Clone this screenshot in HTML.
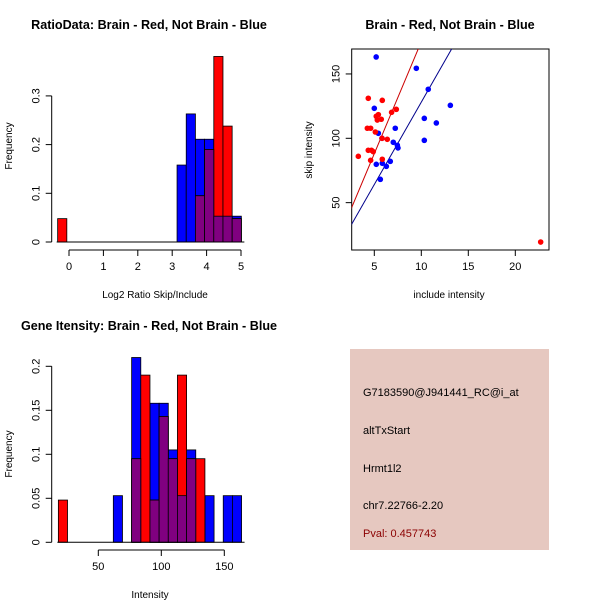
<!DOCTYPE html>
<html><head><meta charset="utf-8"><style>
body{margin:0;background:#fff}
svg{display:block;font-family:"Liberation Sans",sans-serif}
</style></head><body>
<svg id="c" width="600" height="600" viewBox="0 0 600 600">
<rect x="350" y="349" width="199" height="201" fill="#e6c8c0"/>
<text x="363" y="396" font-size="11">G7183590@J941441_RC@i_at</text>
<text x="363" y="434" font-size="11">altTxStart</text>
<text x="363" y="472" font-size="11">Hrmt1l2</text>
<text x="363" y="509" font-size="11">chr7.22766-2.20</text>
<text x="363" y="537" font-size="11" fill="#8b0000">Pval: 0.457743</text>
</svg>
<script>
// Ratio histogram (breaks -0.33 + 0.267k)
const ratioBreak0=-0.33, ratioStep=0.267;
const ratioRed=[0.048,0,0,0,0,0,0,0,0,0,0,0,0,0,0,0.095,0.19,0.381,0.238,0.048];
const ratioBlue=[0,0,0,0,0,0,0,0,0,0,0,0,0,0.158,0.263,0.211,0.211,0.053,0.053,0.053];
const ratioXTicks=[0,1,2,3,4,5];
const ratioYTicks=[0,0.1,0.2,0.3];
// Intensity histogram (breaks 18.3 + 7.27k)
const intBreak0=18.3, intStep=7.27;
const intRed=[0.048,0,0,0,0,0,0,0,0.095,0.19,0.048,0.143,0.095,0.19,0.095,0.095,0,0,0,0];
const intBlue=[0,0,0,0,0,0,0.053,0,0.21,0,0.158,0.158,0.105,0.053,0.105,0,0.053,0,0.053,0.053];
const intXTicks=[50,100,150];
const intYTicks=[0,0.05,0.1,0.15,0.2];
// Scatter
const blueX=[5.2,9.47,10.74,13.09,5.0,10.32,11.6,7.23,5.43,5.82,10.32,7.02,7.52,5.21,5.85,6.28,6.70,5.64,7.45];
const blueY=[163.2,154.4,138.1,125.6,123.3,115.5,111.9,107.8,103.9,100,98.4,96.9,92.5,79.8,80.6,78.2,82.1,68.1,94.6];
const redX=[4.36,5.85,6.84,7.34,5.43,5.21,5.32,5.74,4.26,4.61,5.11,6.38,5.82,4.36,4.89,4.61,5.85,3.30,22.7,4.7];
const redY=[131.1,129.5,120.2,122.5,118.4,117.1,114.2,114.8,107.8,107.8,104.9,99.2,100,90.7,89.6,82.9,83.7,86,19.4,90.7];
const redFit=[1.1,17.4], blueFit=[0.1,12.8];
const scXTicks=[5,10,15,20], scYTicks=[50,100,150];

const NS="http://www.w3.org/2000/svg", svg=document.getElementById('c');
function mk(t,a,p){const e=document.createElementNS(NS,t);for(const k in a)e.setAttribute(k,a[k]);(p||svg).appendChild(e);return e;}
function txt(x,y,s,size,extra){const e=mk('text',Object.assign({x:x,y:y,'font-size':size,'text-anchor':'middle'},extra||{}));e.textContent=s;return e;}

function hist(o){
  const X=v=>o.x0+(v-o.v0)*o.sx, Y=v=>o.y0-v*o.sy;
  const g=mk('g',{});
  
  
  const draw=(arr,fill,nm,minArr)=>arr.forEach((v,i)=>{
    const h=minArr?Math.min(v,minArr[i]):v; if(h<=0)return;
    const a=o.b0+i*o.step,b=a+o.step;
    const r=mk('rect',{x:X(a),y:Y(h),width:X(b)-X(a),height:Y(0)-Y(h),fill:fill,stroke:'#000','stroke-width':0.8},g);
    
    
  });
  draw(o.blue,'#0000ff','blue-bar');
  draw(o.red,'#ff0000','red-bar');
  draw(o.red,'#800080','overlap-bar',o.blue);
  mk('line',{x1:X(o.b0)-1,x2:X(o.b0+o.step*o.red.length)+3,y1:Y(0),y2:Y(0),stroke:'#000'},g);
  const ax=mk('g',{},g);
  
  
  const ay=o.axisY;
  mk('line',{x1:X(o.xt[0]),x2:X(o.xt[o.xt.length-1]),y1:ay,y2:ay,stroke:'#000'},ax);
  o.xt.forEach(t=>{mk('line',{x1:X(t),x2:X(t),y1:ay,y2:ay+6,stroke:'#000'},ax);txt(X(t),ay+20,String(t),11);});
  const yx=o.axisX;
  const yg=mk('g',{},g);
  
  
  mk('line',{x1:yx,x2:yx,y1:Y(0),y2:Y(o.yt[o.yt.length-1]),stroke:'#000'},yg);
  o.yt.forEach(t=>{mk('line',{x1:yx,x2:yx-6,y1:Y(t),y2:Y(t),stroke:'#000'},yg);const e=txt(yx-12,Y(t),String(t),11,{transform:`rotate(-90 ${yx-12} ${Y(t)})`});});
}
hist({name:'ratio-histogram',x0:69,v0:0,sx:34.4,y0:242,sy:487,b0:ratioBreak0,step:ratioStep,red:ratioRed,blue:ratioBlue,xt:ratioXTicks,yt:ratioYTicks,axisY:250,axisX:51.7});
hist({name:'intensity-histogram',x0:98.3,v0:50,sx:1.26,y0:542.3,sy:880,b0:intBreak0,step:intStep,red:intRed,blue:intBlue,xt:intXTicks,yt:intYTicks,axisY:550,axisX:51.7});

let t;
t=txt(149,29,'RatioData: Brain - Red, Not Brain - Blue',12.6,{'font-weight':'bold'});
t=txt(155,298,'Log2 Ratio Skip/Include',10);
t=txt(12,146,'Frequency',10,{transform:'rotate(-90 12 146)'});
t=txt(149,330,'Gene Itensity: Brain - Red, Not Brain - Blue',12.6,{'font-weight':'bold'});
t=txt(150,598,'Intensity',10);
t=txt(12,454,'Frequency',10,{transform:'rotate(-90 12 454)'});

// scatter
const L=351.7,R=549,T=49,B=250;
const SX=v=>374.3+(v-5)*9.4, SY=v=>138.3-(v-100)*1.287;
const sg=mk('g',{});


mk('clipPath',{id:'cp'},sg);
mk('rect',{x:L,y:T,width:R-L,height:B-T},document.getElementById('cp'));
mk('rect',{x:L,y:T,width:R-L,height:B-T,fill:'none',stroke:'#000'},sg);
scXTicks.forEach(v=>{mk('line',{x1:SX(v),x2:SX(v),y1:B,y2:B+6,stroke:'#000'},sg);txt(SX(v),B+20,String(v),11);});
scYTicks.forEach(v=>{mk('line',{x1:L,x2:L-6,y1:SY(v),y2:SY(v),stroke:'#000'},sg);txt(L-12,SY(v),String(v),11,{transform:`rotate(-90 ${L-12} ${SY(v)})`});});
const cg=mk('g',{'clip-path':'url(#cp)'},sg);
[[redFit,'#cc0000','red-fit-line'],[blueFit,'#00008b','blue-fit-line']].forEach(([f,c,n])=>{
  const l=mk('line',{x1:SX(0),y1:SY(f[0]),x2:SX(30),y2:SY(f[0]+f[1]*30),stroke:c,'stroke-width':1},cg);
  
  
});
blueX.forEach((x,i)=>{const p=mk('circle',{cx:SX(x),cy:SY(blueY[i]),r:2.8,fill:'#0000ff'},cg);
  
  });
redX.forEach((x,i)=>{const p=mk('circle',{cx:SX(x),cy:SY(redY[i]),r:2.8,fill:'#ff0000'},cg);
  
  });
t=txt(450,29,'Brain - Red, Not Brain - Blue',12.6,{'font-weight':'bold'});
t=txt(449,298,'include intensity',10);
t=txt(312,150,'skip intensity',10,{transform:'rotate(-90 312 150)'});
</script>
</body></html>
